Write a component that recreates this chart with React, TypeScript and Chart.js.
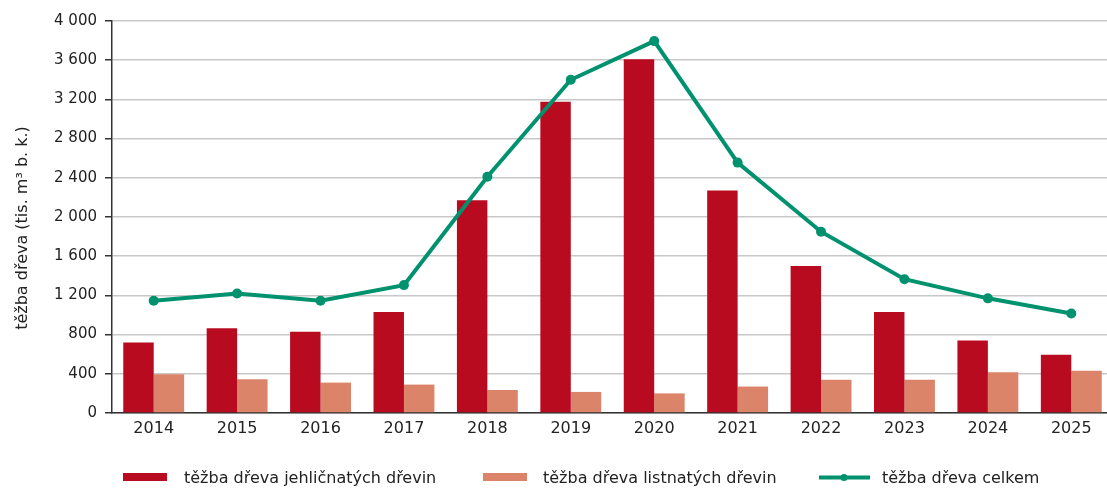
import React, { useEffect, useRef } from 'react';
import { Chart, registerables } from 'chart.js';

Chart.register(...registerables);

const years = ['2014', '2015', '2016', '2017', '2018', '2019', '2020', '2021', '2022', '2023', '2024', '2025'];
const coniferous = [720, 865, 830, 1030, 2170, 3175, 3610, 2270, 1500, 1030, 740, 595];
const broadleaf = [395, 345, 310, 290, 235, 215, 200, 270, 340, 340, 415, 430];
const totalHarvest = [1145, 1220, 1145, 1305, 2410, 3400, 3795, 2555, 1850, 1365, 1170, 1015];
const yTickValues = [0, 400, 800, 1200, 1600, 2000, 2400, 2800, 3200, 3600, 4000];
const seriesNames = ['těžba dřeva jehličnatých dřevin', 'těžba dřeva listnatých dřevin', 'těžba dřeva celkem'];
const yTitle = 'těžba dřeva (tis. m³ b. k.)';

const RED = '#B90B1F';
const ORANGE = '#DB8469';
const GREEN = '#00926E';
const FONT = '"DejaVu Sans", Verdana, sans-serif';

function fmt(n: number): string {
  if (n >= 1000) {
    const th = Math.floor(n / 1000);
    const rest = String(n % 1000).padStart(3, '0');
    return th + ' ' + rest;
  }
  return String(n);
}

const decorPlugin = {
  id: 'decor',
  afterDraw(chart: any) {
    const ctx = chart.ctx as CanvasRenderingContext2D;
    ctx.save();
    ctx.fillStyle = '#222';
    ctx.font = '16px ' + FONT;
    ctx.textAlign = 'center';
    ctx.textBaseline = 'middle';
    ctx.translate(23, 228);
    ctx.rotate(-Math.PI / 2);
    ctx.fillText(yTitle, 0, 0);
    ctx.restore();

    ctx.save();
    ctx.font = '16px ' + FONT;
    ctx.textAlign = 'left';
    ctx.textBaseline = 'alphabetic';
    const baseY = 483;
    ctx.fillStyle = RED;
    ctx.fillRect(123, 473, 44, 8);
    ctx.fillStyle = '#222';
    ctx.fillText(seriesNames[0], 184, baseY);
    ctx.fillStyle = ORANGE;
    ctx.fillRect(483, 473, 44, 8);
    ctx.fillStyle = '#222';
    ctx.fillText(seriesNames[1], 543, baseY);
    ctx.strokeStyle = GREEN;
    ctx.lineWidth = 4;
    ctx.beginPath();
    ctx.moveTo(819, 477.5);
    ctx.lineTo(870, 477.5);
    ctx.stroke();
    ctx.fillStyle = GREEN;
    ctx.beginPath();
    ctx.arc(844, 477.5, 3.5, 0, Math.PI * 2);
    ctx.fill();
    ctx.fillStyle = '#222';
    ctx.fillText(seriesNames[2], 882, baseY);
    ctx.restore();
  },
};

export default function App() {
  const ref = useRef<HTMLCanvasElement | null>(null);

  useEffect(() => {
    if (!ref.current) return;
    const chart = new Chart(ref.current, {
      type: 'bar',
      data: {
        labels: years,
        datasets: [
          {
            type: 'line',
            label: seriesNames[2],
            data: totalHarvest,
            borderColor: GREEN,
            backgroundColor: GREEN,
            borderWidth: 4,
            pointRadius: 5,
            pointBorderWidth: 0,
            pointBackgroundColor: GREEN,
            tension: 0,
            order: 0,
          } as any,
          {
            label: seriesNames[0],
            data: coniferous,
            backgroundColor: RED,
            borderWidth: 0,
            barPercentage: 1,
            categoryPercentage: 0.73,
            order: 1,
          },
          {
            label: seriesNames[1],
            data: broadleaf,
            backgroundColor: ORANGE,
            borderWidth: 0,
            barPercentage: 1,
            categoryPercentage: 0.73,
            order: 1,
          },
        ],
      },
      options: {
        animation: false,
        responsive: false,
        devicePixelRatio: 1,
        layout: { padding: { top: 21, left: 0, right: 0, bottom: 0 } },
        plugins: {
          legend: { display: false },
          tooltip: { enabled: false },
          title: { display: false },
        },
        scales: {
          x: {
            grid: { display: false, drawTicks: false },
            border: { display: true, color: '#333', width: 1.5 },
            ticks: {
              font: { family: FONT, size: 16 },
              color: '#222',
              padding: 6,
              maxRotation: 0,
            },
            afterFit(scale: any) {
              scale.height = 75;
            },
          },
          y: {
            min: 0,
            max: 4000,
            afterBuildTicks(scale: any) {
              scale.ticks = yTickValues.map((v) => ({ value: v }));
            },
            grid: {
              color: '#C8C8C8',
              lineWidth: 1.5,
              tickColor: '#333',
              tickLength: 7,
              drawTicks: true,
            },
            border: { display: true, color: '#333', width: 1.5 },
            ticks: {
              font: { family: FONT, size: 15 },
              color: '#222',
              padding: 8,
              callback: (v: any) => fmt(Number(v)),
            },
            afterFit(scale: any) {
              scale.width = 112;
            },
          },
        },
      },
      plugins: [decorPlugin],
    });
    return () => chart.destroy();
  }, []);

  return (
    <div
      style={{
        position: 'fixed',
        left: 0,
        top: 0,
        width: 1107,
        height: 488,
        overflow: 'hidden',
        background: '#fff',
      }}
    >
      <canvas ref={ref} width={1118} height={488} style={{ display: 'block' }} />
    </div>
  );
}
